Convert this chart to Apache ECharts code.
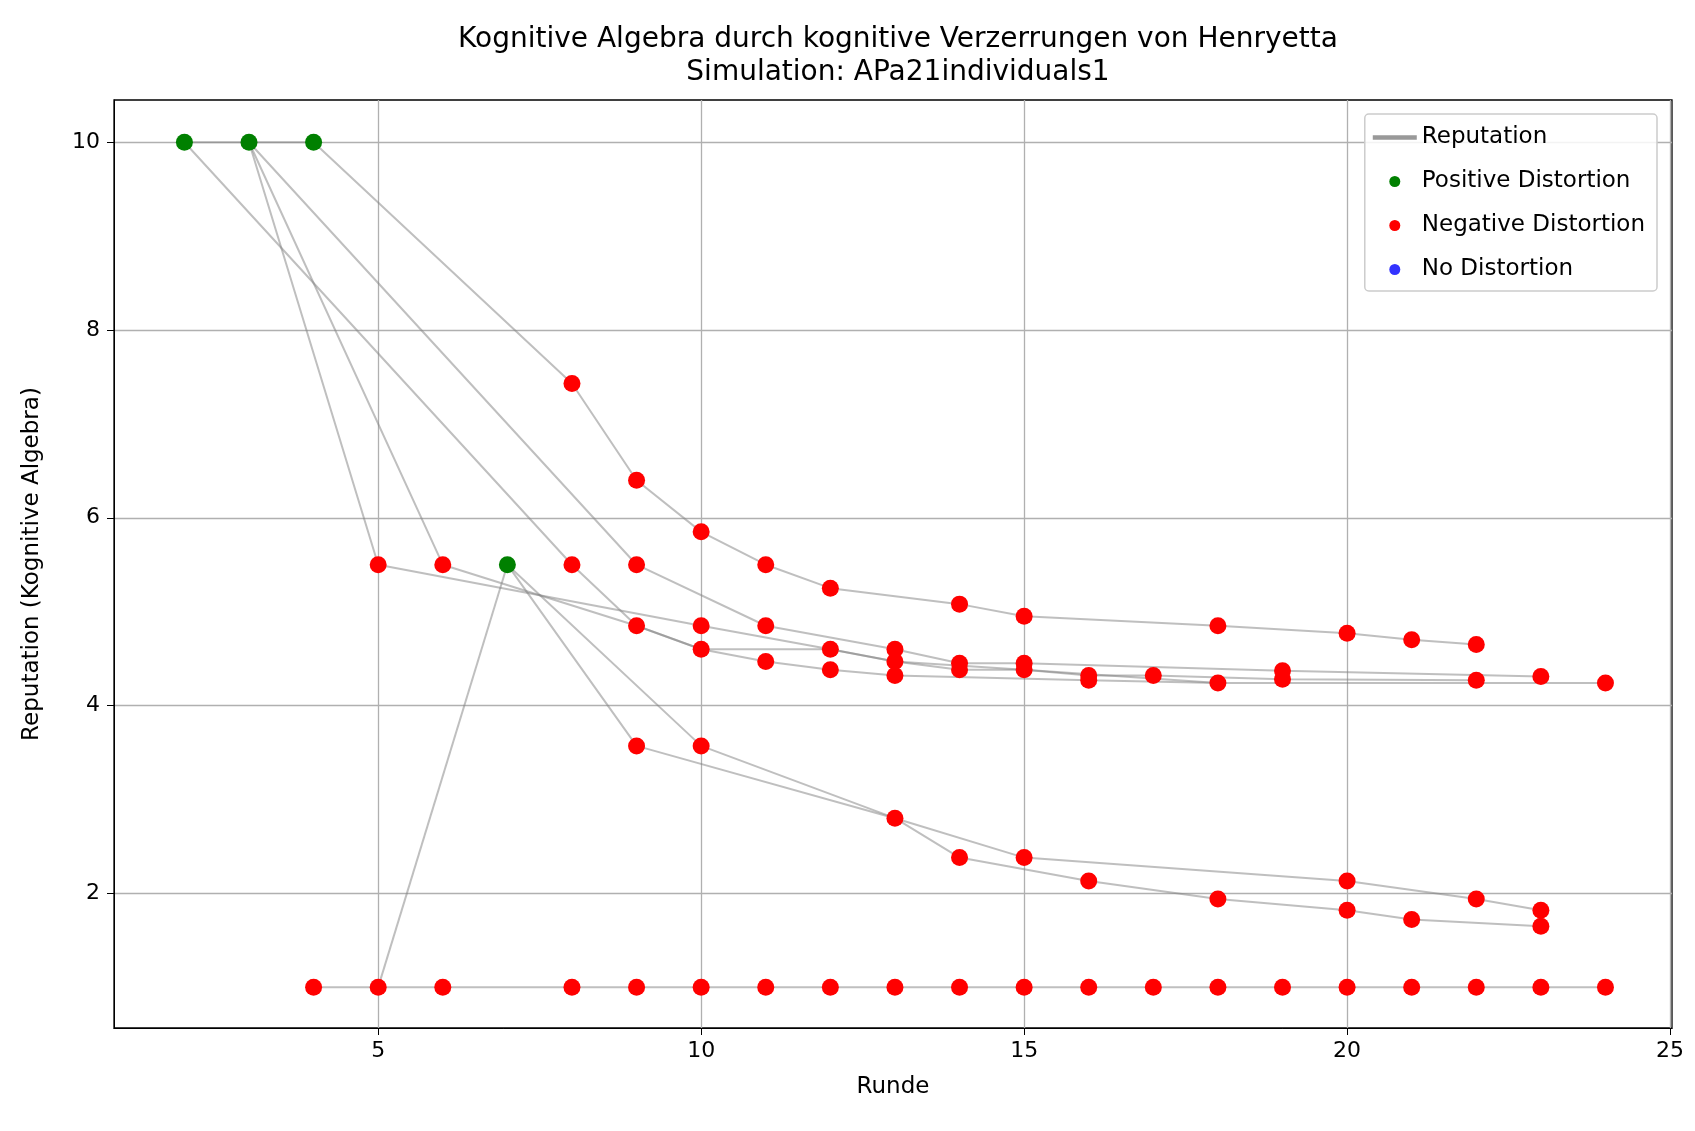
<!DOCTYPE html>
<html lang="de">
<head>
<meta charset="UTF-8">
<title>Kognitive Algebra</title>
<script src="https://cdn.jsdelivr.net/npm/echarts@6/dist/echarts.min.js"></script>
</head>
<body style="margin:0;background:#fff">
<div id="chart" style="width:1695px;height:1131px"></div>
<script>
// trajectories (Runde, Reputation)
var traj1 = [[2,10],[3,10],[4,10]];
var traj2 = [[2,10],[8,5.5],[9,4.85],[10,4.6],[12,4.6],[13,4.47],[14,4.38],[15,4.38],[16,4.32],[17,4.32],[19,4.28],[22,4.27]];
var traj3 = [[3,10],[9,5.5],[11,4.85],[13,4.6],[14,4.45],[15,4.45],[19,4.37],[23,4.31]];
var traj4 = [[3,10],[5,5.5],[10,4.85],[12,4.6],[13,4.47],[15,4.38],[18,4.24]];
var traj5 = [[3,10],[6,5.5],[9,4.85],[10,4.6],[11,4.47],[12,4.38],[13,4.32],[16,4.27],[18,4.24],[24,4.24]];
var traj6 = [[4,10],[8,7.43],[9,6.4],[10,5.85],[11,5.5],[12,5.25],[14,5.08],[15,4.95],[18,4.85],[20,4.77],[21,4.7],[22,4.65]];
var traj7 = [[7,5.5],[9,3.57],[13,2.8],[14,2.38],[16,2.13],[18,1.94],[20,1.82],[21,1.72],[23,1.65]];
var traj8 = [[7,5.5],[10,3.57],[13,2.8],[15,2.38],[20,2.13],[22,1.94],[23,1.82]];
var traj9 = [[4,1],[5,1],[24,1]];
var traj10 = [[5,1],[7,5.5]];

var positivePts = [[2,10],[3,10],[4,10],[7,5.5]];
var negativePts = [
  [5,5.5],[6,5.5],[8,5.5],[9,5.5],[8,7.43],[9,6.4],[10,5.85],[11,5.5],[12,5.25],[14,5.08],[15,4.95],
  [18,4.85],[20,4.77],[21,4.7],[22,4.65],
  [9,4.85],[10,4.85],[10,4.6],[11,4.85],[11,4.47],[12,4.6],[12,4.38],[13,4.6],[13,4.47],[13,4.32],
  [14,4.45],[14,4.38],[15,4.45],[15,4.38],[16,4.32],[16,4.27],[17,4.32],[18,4.24],[19,4.37],[19,4.28],
  [22,4.27],[23,4.31],[24,4.24],
  [9,3.57],[10,3.57],[13,2.8],[14,2.38],[15,2.38],[16,2.13],[18,1.94],[20,2.13],[20,1.82],[21,1.72],
  [22,1.94],[23,1.82],[23,1.65],
  [4,1],[5,1],[6,1],[8,1],[9,1],[10,1],[11,1],[12,1],[13,1],[14,1],[15,1],[16,1],[17,1],[18,1],
  [19,1],[20,1],[21,1],[22,1],[23,1],[24,1]
];
var noPts = [];
var xTicks = [5, 10, 15, 20, 25];
var yTicks = [2, 4, 6, 8, 10];

var trajs = [traj1,traj2,traj3,traj4,traj5,traj6,traj7,traj8,traj9,traj10];
var font = 'DejaVu Sans';
var series = trajs.map(function (t, i) {
  return {
    name: i === 0 ? 'Reputation' : 'traj' + i,
    type: 'line', data: t, symbol: 'none',
    lineStyle: { color: 'rgba(128,128,128,0.5)', width: 2 },
    itemStyle: { color: 'rgba(128,128,128,0.8)' },
    z: 1
  };
});
series.push({ name: 'Positive Distortion', type: 'scatter', data: positivePts, symbolSize: 17, itemStyle: { color: 'green', opacity: 1 }, z: 3 });
series.push({ name: 'Negative Distortion', type: 'scatter', data: negativePts, symbolSize: 17, itemStyle: { color: 'red', opacity: 1 }, z: 3 });
series.push({ name: 'No Distortion', type: 'scatter', data: noPts, symbolSize: 17, itemStyle: { color: 'blue' }, z: 3 });

var chart = echarts.init(document.getElementById('chart'));
chart.setOption({
  animation: false,
  textStyle: { fontFamily: font },
  title: {
    text: 'Kognitive Algebra durch kognitive Verzerrungen von Henryetta\nSimulation: APa21individuals1',
    left: 893, top: 18, textAlign: 'center',
    textStyle: { fontFamily: font, fontSize: 28, fontWeight: 'normal', color: '#000', lineHeight: 33 }
  },
  legend: {
    data: [
      { name: 'Reputation', icon: 'path://M0,0 L10,0 L10,1 L0,1 Z' },
      { name: 'Positive Distortion', icon: 'circle' },
      { name: 'Negative Distortion', icon: 'circle' },
      { name: 'No Distortion', icon: 'circle' }
    ],
    orient: 'vertical', right: 38, top: 114,
    itemWidth: 44, itemHeight: 11, itemGap: 21,
    padding: [12, 12, 10, 8],
    borderColor: '#ccc', borderWidth: 1.5, borderRadius: 4,
    backgroundColor: 'rgba(255,255,255,0.85)',
    textStyle: { fontFamily: font, fontSize: 23, color: '#000' }
  },
  grid: { left: 114, right: 23, top: 100, bottom: 103, containLabel: false,
    show: true, borderColor: '#000', borderWidth: 1.3, backgroundColor: 'transparent' },
  xAxis: {
    type: 'value', min: 0.91, max: 25.03,
    name: 'Runde', nameLocation: 'middle', nameGap: 48,
    nameTextStyle: { fontFamily: font, fontSize: 23, color: '#000' },
    axisLine: { onZero: false, lineStyle: { color: '#000' } },
    axisTick: { show: true, length: 7, customValues: xTicks, lineStyle: { color: '#000' } },
    axisLabel: { fontFamily: font, fontSize: 22, color: '#000', margin: 12, customValues: xTicks },
    splitLine: { show: true, customValues: xTicks, lineStyle: { color: '#b0b0b0', width: 1.3 } }
  },
  yAxis: {
    type: 'value', min: 0.565, max: 10.45,
    name: 'Reputation (Kognitive Algebra)', nameLocation: 'middle', nameGap: 70,
    nameTextStyle: { fontFamily: font, fontSize: 23, color: '#000' },
    axisLine: { show: true, onZero: false, lineStyle: { color: '#000' } },
    axisTick: { show: true, length: 7, customValues: yTicks, lineStyle: { color: '#000' } },
    axisLabel: { fontFamily: font, fontSize: 22, color: '#000', margin: 14, customValues: yTicks },
    splitLine: { show: true, customValues: yTicks, lineStyle: { color: '#b0b0b0', width: 1.3 } }
  },
  series: series
});
</script>
</body>
</html>
